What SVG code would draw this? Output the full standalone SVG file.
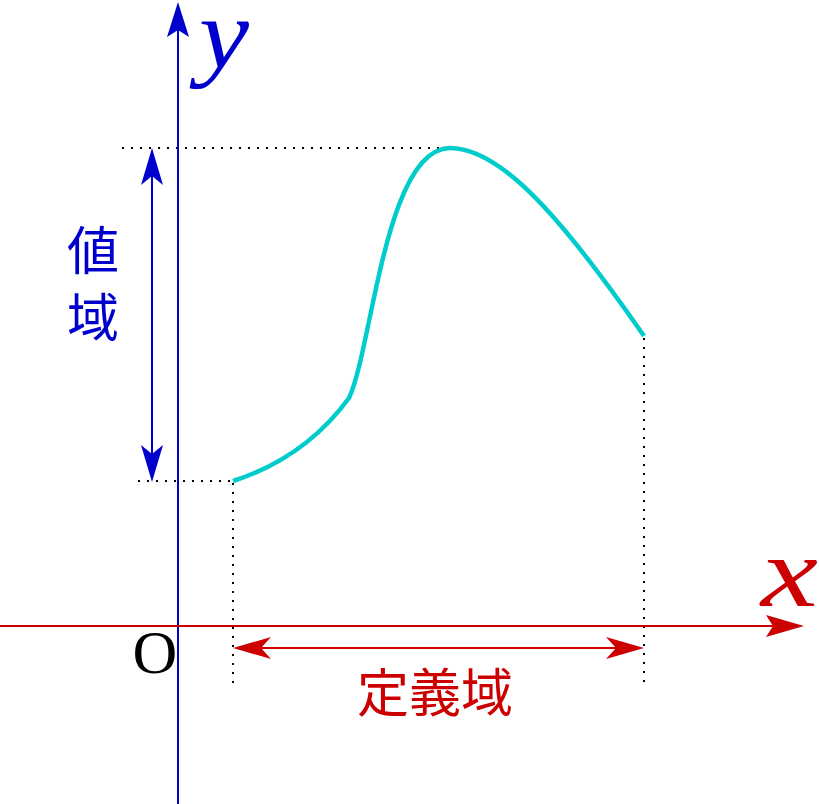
<svg xmlns="http://www.w3.org/2000/svg" width="819" height="804" viewBox="0 0 819 804">
<style>
.dot{stroke:#000;stroke-width:2;stroke-dasharray:2 7;fill:none}
.ax{stroke-width:2;fill:none}
.b{stroke:#0000cc}
.r{stroke:#cc0000}
.bt{fill:#0000cc}
.rt{fill:#cc0000}
.math{font-family:"Liberation Serif",serif;font-style:italic}
.cjk{font-family:"Noto Sans CJK JP",sans-serif}
</style>
<rect width="819" height="804" fill="#fff"/>
<g id="guides">
<line class="dot" x1="122" y1="148" x2="452" y2="148"/>
<line class="dot" x1="138" y1="481" x2="233" y2="481"/>
<line class="dot" x1="233" y1="483" x2="233" y2="684"/>
<line class="dot" x1="644" y1="338" x2="644" y2="684"/>
</g>
<g id="connectors">
<line class="ax b" x1="178" y1="804" x2="178" y2="20"/>
<path class="bt" d="M178,2 L189,37 L178,30 L167,37 Z"/>
<line class="ax r" x1="0" y1="626" x2="785" y2="626"/>
<path class="rt" d="M804,626 L766,637 L773,626 L766,615 Z"/>
<line class="ax b" x1="152" y1="170" x2="152" y2="460"/>
<path class="bt" d="M152,148 L163,185 L152,176 L141,185 Z"/>
<path class="bt" d="M152,482 L163,445 L152,454 L141,445 Z"/>
<line class="ax r" x1="255" y1="648" x2="622" y2="648"/>
<path class="rt" d="M233,648 L271,637 L261,648 L271,659 Z"/>
<path class="rt" d="M644,648 L606,637 L616,648 L606,659 Z"/>
</g>
<g id="curve">
<path d="M233,481 Q305,458 349,398 C372,350 385,148 450,148 C500,148 560,215 644,336" fill="none" stroke="#00cccc" stroke-width="4.5"/>
</g>
<g id="label-y"><text class="math bt" x="199" y="68" font-size="100" textLength="50" lengthAdjust="spacingAndGlyphs">y</text></g>
<g id="label-x"><text class="math rt" x="761" y="606" font-size="100" textLength="57" lengthAdjust="spacingAndGlyphs">x</text></g>
<g id="label-O"><text x="155" y="673" font-size="62" text-anchor="middle" font-family="Liberation Serif,serif">O</text></g>
<g id="label-range">
<text class="cjk bt" x="93" y="270" font-size="52" text-anchor="middle">値</text>
<text class="cjk bt" x="93" y="337" font-size="52" text-anchor="middle">域</text>
</g>
<g id="label-domain"><text class="cjk rt" x="435" y="712" font-size="52" text-anchor="middle">定義域</text></g>
</svg>
